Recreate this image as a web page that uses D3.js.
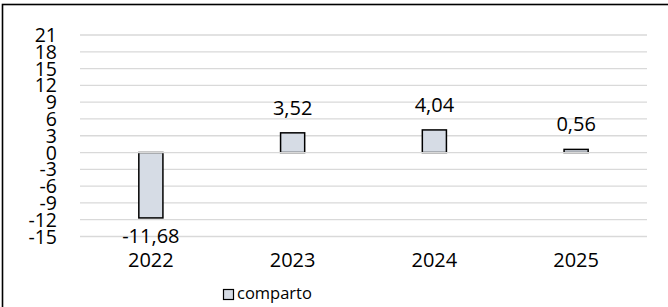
<!DOCTYPE html>
<html>
    <head>
        <title>comparto</title>
        <meta charset="UTF-8">
        <script src="https://cdn.jsdelivr.net/npm/d3@7"></script>
        <style>
            body { margin: 0; background: #fff; }
            text { font-family: 'Open Sans', sans-serif; fill: #000; }
            .grid line { stroke: #d9d9d9; stroke-width: 1.3px; }
            .bar { fill: #d6dce5; stroke: #000; stroke-width: 1.5px; }
        </style>
    </head>
    <body>
        <svg width="668" height="307"></svg>
        <script>
            // data
            var years = ['2022', '2023', '2024', '2025'];
            var comparto = [-11.68, 3.52, 4.04, 0.56];
            var yTicks = [21, 18, 15, 12, 9, 6, 3, 0, -3, -6, -9, -12, -15];
            var seriesName = 'comparto';

            var svg = d3.select('svg');

            // outer frame (runs off the right and bottom edges)
            svg.append('rect')
               .attr('x', 2.5)
               .attr('y', 4.5)
               .attr('width', 720)
               .attr('height', 400)
               .attr('fill', 'none')
               .attr('stroke', '#000')
               .attr('stroke-width', 1.6);

            var x = d3.scaleBand()
                .domain(years)
                .range([80, 647])
                .paddingInner(0.83)
                .paddingOuter(0.415);

            var y = d3.scaleLinear()
                .domain([-15, 21])
                .range([236.5, 35]);

            // italian style: comma decimals, plain hyphen minus
            var fmt = function(v) { return d3.format('.2f')(v).replace('.', ',').replace('\u2212', '-'); };

            // gridlines
            svg.append('g')
               .attr('class', 'grid')
               .selectAll('line')
               .data(yTicks.filter(function(d) { return d !== 0; }))
               .enter().append('line')
                 .attr('x1', 80)
                 .attr('x2', 647)
                 .attr('y1', function(d) { return y(d); })
                 .attr('y2', function(d) { return y(d); });

            // y tick labels
            svg.append('g')
               .selectAll('text')
               .data(yTicks)
               .enter().append('text')
                 .attr('x', 57)
                 .attr('y', function(d) { return y(d); })
                 .attr('dy', '0.36em')
                 .style('text-anchor', 'end')
                 .style('font-size', '19.5px')
                 .text(function(d) { return d < 0 ? '-' + Math.abs(d) : d; });

            // bars
            svg.append('g')
               .selectAll('rect')
               .data(comparto)
               .enter().append('rect')
                 .attr('class', 'bar')
                 .attr('x', function(d, i) { return x(years[i]); })
                 .attr('width', x.bandwidth())
                 .attr('y', function(d) { return y(Math.max(0, d)); })
                 .attr('height', function(d) { return Math.abs(y(d) - y(0)); });

            // zero line drawn over bar bases
            svg.append('g')
               .attr('class', 'grid')
               .append('line')
                 .attr('x1', 80)
                 .attr('x2', 647)
                 .attr('y1', y(0))
                 .attr('y2', y(0));

            // value labels
            svg.append('g')
               .selectAll('text')
               .data(comparto)
               .enter().append('text')
                 .attr('x', function(d, i) { return x(years[i]) + x.bandwidth() / 2; })
                 .attr('y', function(d) { return d < 0 ? y(d) + 25 : y(d) - 18; })
                 .style('text-anchor', 'middle')
                 .style('font-size', '20px')
                 .text(fmt);

            // category labels
            svg.append('g')
               .selectAll('text')
               .data(years)
               .enter().append('text')
                 .attr('x', function(d) { return x(d) + x.bandwidth() / 2; })
                 .attr('y', 266.5)
                 .style('text-anchor', 'middle')
                 .style('font-size', '20px')
                 .text(function(d) { return d; });

            // legend
            var legend = svg.append('g');
            legend.append('rect')
                  .attr('x', 223.5)
                  .attr('y', 289.5)
                  .attr('width', 10)
                  .attr('height', 10)
                  .attr('fill', '#d6dce5')
                  .attr('stroke', '#000')
                  .attr('stroke-width', 1.2);
            legend.append('text')
                  .attr('x', 237)
                  .attr('y', 299)
                  .style('font-size', '16.5px')
                  .text(seriesName);
        </script>
    </body>
</html>
